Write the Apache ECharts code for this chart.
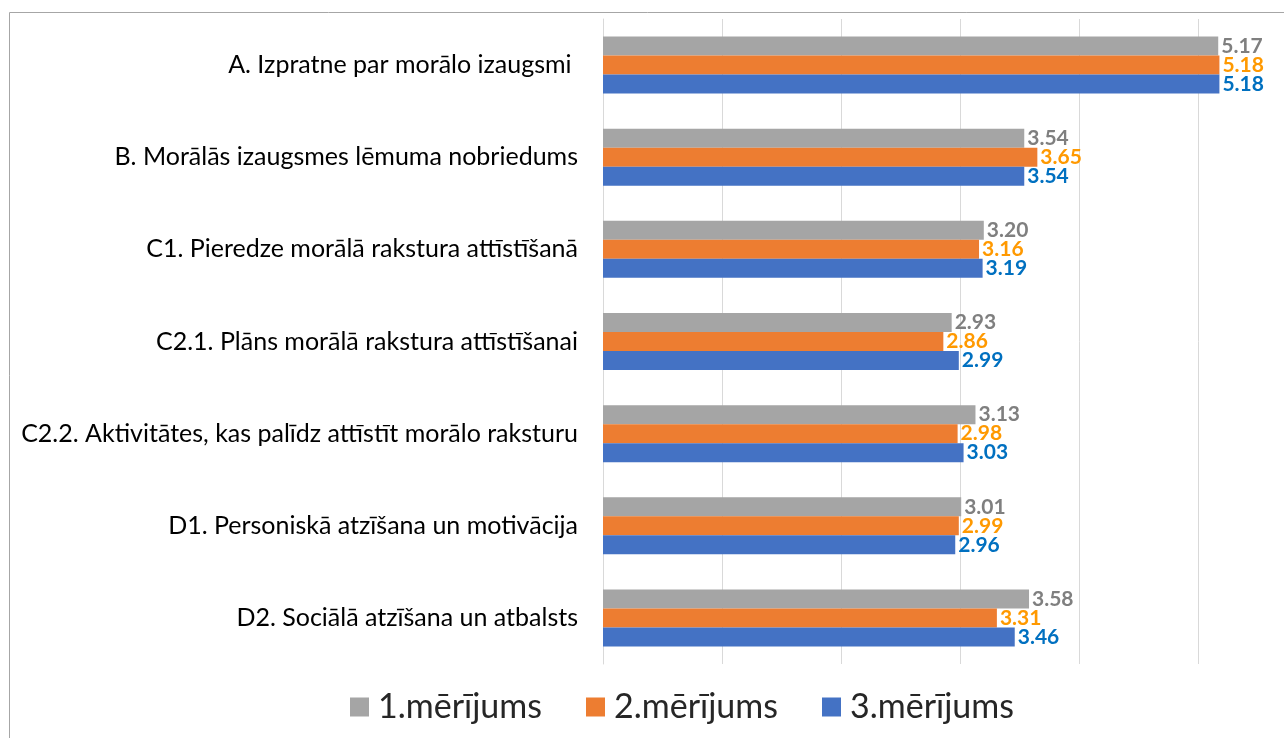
<!DOCTYPE html>
<html>
<head>
<meta charset="utf-8">
<script src="https://cdn.jsdelivr.net/npm/echarts@6/dist/echarts.min.js"></script>
<style>
  html, body { margin: 0; padding: 0; background: #fff; }
  #main { width: 1284px; height: 738px; }
</style>
</head>
<body>
<div id="main"></div>
<script>
var myChart = echarts.init(document.getElementById('main'));

const categories = [
    'A. Izpratne par morālo izaugsmi ',
    'B. Morālās izaugsmes lēmuma nobriedums',
    'C1. Pieredze morālā rakstura attīstīšanā',
    'C2.1. Plāns morālā rakstura attīstīšanai',
    'C2.2. Aktivitātes, kas palīdz attīstīt morālo raksturu',
    'D1. Personiskā atzīšana un motivācija',
    'D2. Sociālā atzīšana un atbalsts'
]
const seriesNames = ['1.mērījums', '2.mērījums', '3.mērījums']
const meas1 = [5.17, 3.54, 3.20, 2.93, 3.13, 3.01, 3.58]
const meas2 = [5.18, 3.65, 3.16, 2.86, 2.98, 2.99, 3.31]
const meas3 = [5.18, 3.54, 3.19, 2.99, 3.03, 2.96, 3.46]

const barColors = ['#A5A5A5', '#ED7D31', '#4472C4']
const labelColors = ['#7F7F7F', '#FF9900', '#0070C0']
const font = 'Lato, "Noto Sans", sans-serif'

function makeSeries(i, data) {
    return {
        name: seriesNames[i],
        type: 'bar',
        data: data,
        barWidth: 19,
        barGap: '0%',
        itemStyle: { color: barColors[i] },
        label: {
            show: true,
            position: 'right',
            distance: 3,
            color: labelColors[i],
            fontFamily: font,
            fontWeight: 'bold',
            fontSize: 21,
            formatter: p => p.value.toFixed(2)
        }
    }
}

var option = {
    animation: false,
    backgroundColor: '#fff',
    graphic: [{
        type: 'rect',
        shape: { x: 9.5, y: 12.5, width: 1400, height: 900 },
        style: { fill: 'none', stroke: '#A6A6A6', lineWidth: 1 },
        silent: true,
        z: -1
    }],
    // width goes past the canvas so that 0..5 gridlines fall where they should
    grid: { left: 603, top: 19, height: 645, width: 714, outerBoundsMode: 'none' },
    legend: {
        top: 685,
        left: 345,
        itemWidth: 19,
        itemHeight: 19,
        itemGap: 44,
        icon: 'rect',
        textStyle: { fontFamily: font, fontSize: 34, color: '#262626', padding: [0, 0, 0, 4] },
        data: seriesNames
    },
    xAxis: {
        type: 'value',
        min: 0,
        max: 6,
        interval: 1,
        axisLabel: { show: false },
        axisLine: { show: false },
        axisTick: { show: false },
        splitLine: { lineStyle: { color: '#D9D9D9', width: 1 } }
    },
    yAxis: {
        type: 'category',
        inverse: true,
        data: categories,
        axisLine: { show: true, lineStyle: { color: '#D9D9D9' } },
        axisTick: { show: false },
        axisLabel: {
            margin: 25,
            color: '#000',
            fontFamily: font,
            fontSize: 25
        }
    },
    series: [
        makeSeries(0, meas1),
        makeSeries(1, meas2),
        makeSeries(2, meas3)
    ]
};
myChart.setOption(option);
</script>
</body>
</html>
